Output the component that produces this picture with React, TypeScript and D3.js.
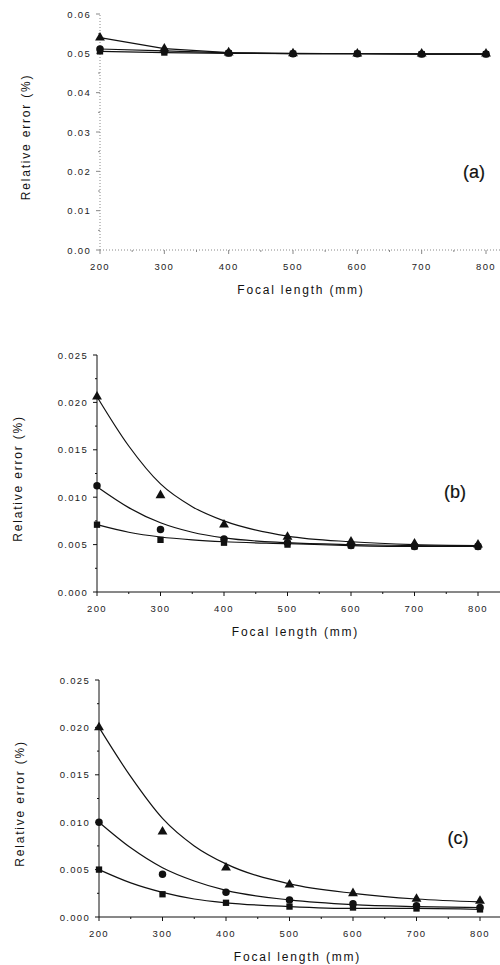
// App.tsx
import React, { useEffect, useRef } from 'react';
import * as d3 from 'd3';

// focal lengths (mm)
const focal = [200, 300, 400, 500, 600, 700, 800];
const fitFocal = [200, 250, 300, 350, 400, 500, 600, 700, 800];

// panel (a) measured values
const aTriangle = [0.054, 0.0512, 0.0502, 0.05, 0.0499, 0.0499, 0.0499];
const aCircle = [0.0511, 0.0506, 0.0501, 0.0499, 0.0499, 0.0498, 0.0498];
const aSquare = [0.0505, 0.0502, 0.05, 0.0499, 0.0499, 0.0498, 0.0498];

// panel (b) measured values
const bTriangle = [0.0206, 0.0102, 0.0071, 0.0058, 0.0053, 0.0051, 0.005];
const bCircle = [0.0112, 0.0066, 0.0056, 0.0052, 0.0049, 0.0048, 0.0048];
const bSquare = [0.0071, 0.0055, 0.0052, 0.005, 0.0049, 0.0048, 0.0048];
// panel (b) fitted curves (read at fitFocal)
const bTriangleFit = [0.0206, 0.0154, 0.0114, 0.009, 0.0075, 0.0059, 0.0053, 0.005, 0.0049];
const bCircleFit = [0.0111, 0.0089, 0.0073, 0.0063, 0.0057, 0.0052, 0.005, 0.0049, 0.0048];
const bSquareFit = [0.0071, 0.0063, 0.0058, 0.0055, 0.0053, 0.0051, 0.0049, 0.0048, 0.0048];

// panel (c) measured values
const cTriangle = [0.02, 0.009, 0.0052, 0.0034, 0.0025, 0.0019, 0.0017];
const cCircle = [0.01, 0.0045, 0.0026, 0.0018, 0.0014, 0.0012, 0.001];
const cSquare = [0.005, 0.0024, 0.0015, 0.0011, 0.001, 0.0009, 0.0008];
// panel (c) fitted curves
const cTriangleFit = [0.02, 0.0148, 0.0104, 0.0075, 0.0056, 0.0035, 0.0025, 0.0019, 0.0016];
const cCircleFit = [0.01, 0.0073, 0.0052, 0.0038, 0.0028, 0.0018, 0.0013, 0.0011, 0.001];
const cSquareFit = [0.005, 0.0036, 0.0026, 0.0019, 0.0015, 0.0011, 0.0009, 0.0009, 0.0008];

const yTicksA = [0, 0.01, 0.02, 0.03, 0.04, 0.05, 0.06];
const yTicksBC = [0, 0.005, 0.01, 0.015, 0.02, 0.025];

const FONT = 'Arial, "Liberation Sans", sans-serif';

type Series = { shape: 'triangle' | 'circle' | 'square'; values: number[]; fit?: number[] };

type Panel = {
  label: string;
  left: number; right: number; top: number; bottom: number;
  yMax: number; yTicks: number[]; yFmt: string; minorStep: number;
  series: Series[];
  faint: boolean;
  yTitleX: number; labelX: number; labelY: number; axisRight: number;
};

const panels: Panel[] = [
  {
    label: '(a)', left: 100, right: 486, top: 14, bottom: 250,
    yMax: 0.06, yTicks: yTicksA, yFmt: '.2f', minorStep: 0.005,
    series: [
      { shape: 'square', values: aSquare },
      { shape: 'circle', values: aCircle },
      { shape: 'triangle', values: aTriangle },
    ],
    faint: true, yTitleX: 26, labelX: 474, labelY: 172, axisRight: 838,
  },
  {
    label: '(b)', left: 97, right: 478, top: 355, bottom: 592,
    yMax: 0.025, yTicks: yTicksBC, yFmt: '.3f', minorStep: 0.0025,
    series: [
      { shape: 'square', values: bSquare, fit: bSquareFit },
      { shape: 'circle', values: bCircle, fit: bCircleFit },
      { shape: 'triangle', values: bTriangle, fit: bTriangleFit },
    ],
    faint: false, yTitleX: 18, labelX: 455, labelY: 492, axisRight: 836,
  },
  {
    label: '(c)', left: 99, right: 480, top: 680, bottom: 917,
    yMax: 0.025, yTicks: yTicksBC, yFmt: '.3f', minorStep: 0.0025,
    series: [
      { shape: 'square', values: cSquare, fit: cSquareFit },
      { shape: 'circle', values: cCircle, fit: cCircleFit },
      { shape: 'triangle', values: cTriangle, fit: cTriangleFit },
    ],
    faint: false, yTitleX: 20, labelX: 458, labelY: 838, axisRight: 836,
  },
];

const App = () => {
  const svgRef = useRef<SVGSVGElement>(null);

  useEffect(() => {
    const svg = d3.select(svgRef.current);
    svg.selectAll('*').remove();

    panels.forEach(p => {
      const g = svg.append('g');
      const x = d3.scaleLinear().domain([200, 800]).range([p.left, p.right]);
      const y = d3.scaleLinear().domain([0, p.yMax]).range([p.bottom, p.top]);
      const axisColor = p.faint ? '#888' : '#111';
      const dash = p.faint ? '1,2' : null;

      // axes lines
      g.append('line')
        .attr('x1', x(200)).attr('x2', x(p.axisRight))
        .attr('y1', y(0)).attr('y2', y(0))
        .attr('stroke', axisColor).attr('stroke-width', 1)
        .attr('stroke-dasharray', dash);
      g.append('line')
        .attr('x1', x(200)).attr('x2', x(200))
        .attr('y1', y(0)).attr('y2', y(p.yMax))
        .attr('stroke', axisColor).attr('stroke-width', 1)
        .attr('stroke-dasharray', dash);

      // x ticks
      const xMinor = d3.range(250, 850, 100);
      g.selectAll('.xmaj').data(focal).enter().append('line')
        .attr('x1', d => x(d)).attr('x2', d => x(d))
        .attr('y1', y(0)).attr('y2', y(0) + 4)
        .attr('stroke', axisColor);
      g.selectAll('.xmin').data(xMinor).enter().append('line')
        .attr('x1', d => x(d)).attr('x2', d => x(d))
        .attr('y1', y(0)).attr('y2', y(0) + 2)
        .attr('stroke', axisColor);
      g.selectAll('.xlab').data(focal).enter().append('text')
        .attr('x', d => x(d)).attr('y', y(0) + 20)
        .attr('text-anchor', 'middle')
        .attr('font-family', FONT).attr('font-size', 9.5)
        .attr('letter-spacing', 1.3)
        .attr('fill', '#222')
        .text(d => d);

      // y ticks
      const yMinor = d3.range(p.minorStep, p.yMax, p.minorStep * 2);
      g.selectAll('.ymaj').data(p.yTicks).enter().append('line')
        .attr('x1', x(200) - 4).attr('x2', x(200))
        .attr('y1', d => y(d)).attr('y2', d => y(d))
        .attr('stroke', axisColor);
      g.selectAll('.ymin').data(yMinor).enter().append('line')
        .attr('x1', x(200) - 2).attr('x2', x(200))
        .attr('y1', d => y(d)).attr('y2', d => y(d))
        .attr('stroke', axisColor);
      g.selectAll('.ylab').data(p.yTicks).enter().append('text')
        .attr('x', x(200) - 9).attr('y', d => y(d) + 3.5)
        .attr('text-anchor', 'end')
        .attr('font-family', FONT).attr('font-size', 9.5)
        .attr('letter-spacing', 1.3)
        .attr('fill', '#222')
        .text(d => d3.format(p.yFmt)(d));

      // axis titles
      g.append('text')
        .attr('x', (x(200) + x(800)) / 2 + 8).attr('y', y(0) + 44)
        .attr('text-anchor', 'middle')
        .attr('font-family', FONT).attr('font-size', 12)
        .attr('letter-spacing', 1.8)
        .attr('fill', '#111')
        .text('Focal length (mm)');
      const yc = (y(0) + y(p.yMax)) / 2 + 5;
      g.append('text')
        .attr('transform', `translate(${p.yTitleX + 4},${yc}) rotate(-90)`)
        .attr('text-anchor', 'middle')
        .attr('font-family', FONT).attr('font-size', 12)
        .attr('letter-spacing', 1.8)
        .attr('fill', '#111')
        .text('Relative error (%)');

      // panel label
      g.append('text')
        .attr('x', p.labelX).attr('y', p.labelY + 6)
        .attr('text-anchor', 'middle')
        .attr('font-family', FONT).attr('font-size', 18)
        .attr('fill', '#111').attr('stroke', '#111').attr('stroke-width', 0.2)
        .text(p.label);

      // lines
      p.series.forEach(s => {
        if (s.fit) {
          const line = d3.line<number>()
            .x((d, i) => x(fitFocal[i]))
            .y(d => y(d))
            .curve(d3.curveMonotoneX);
          g.append('path').datum(s.fit)
            .attr('d', line)
            .attr('fill', 'none').attr('stroke', '#111').attr('stroke-width', 1.2);
        } else {
          const line = d3.line<number>()
            .x((d, i) => x(focal[i]))
            .y(d => y(d));
          g.append('path').datum(s.values)
            .attr('d', line)
            .attr('fill', 'none').attr('stroke', '#111').attr('stroke-width', 1.2);
        }
      });

      // markers
      p.series.forEach(s => {
        const sym = s.shape === 'triangle' ? d3.symbolTriangle
          : s.shape === 'circle' ? d3.symbolCircle : d3.symbolSquare;
        const size = s.shape === 'triangle' ? 42 : s.shape === 'circle' ? 44 : 40;
        g.selectAll(`.m-${s.shape}`).data(s.values).enter().append('path')
          .attr('d', d3.symbol().type(sym).size(size)())
          .attr('transform', (d, i) => `translate(${x(focal[i])},${y(d)})`)
          .attr('fill', '#111');
      });
    });
  }, []);

  return (
    <svg ref={svgRef} width={500} height={965}
      style={{ position: 'absolute', left: 0, top: 0, background: '#fff' }} />
  );
};

export default App;
